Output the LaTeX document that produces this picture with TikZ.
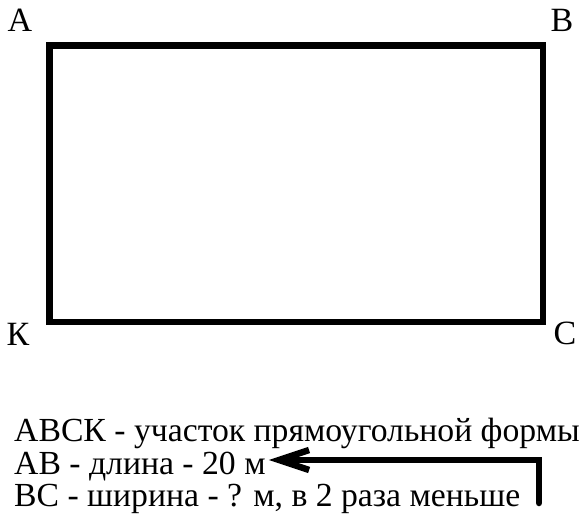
\documentclass[tikz,border=0pt]{standalone}
\usepackage{fontspec}
\setmainfont{Liberation Serif}
\usetikzlibrary{arrows.meta}
\begin{document}
\begin{tikzpicture}[x=1pt,y=-1pt]
		\tikzstyle{corner} = [inner sep=0pt,font=\fontsize{34}{34}\selectfont]
		\tikzstyle{textline} = [anchor=base west,inner sep=0pt,font=\fontsize{33.7}{33.7}\selectfont]
		\useasboundingbox (0,0) rectangle (586,528);
		\coordinate (a) at (49.5,45.5);
		\coordinate (c) at (543,322);
		\draw[line width=6.5pt] (a) rectangle (c);

		\node[corner] (la) at (20,20) {А};
		\node[corner] (lb) at (562,20) {В};
		\node[corner] (lc) at (565,333) {С};
		\node[corner] (lk) at (18,334) {К};

		\node[textline] (line1) at (14,441.7) {АВСК - участок прямоугольной формы};
		\node[textline] (line2) at (14,474) {АВ - длина - 20 м};
		\node[textline] (line3) at (14,506) {ВС - ширина - ? м, в 2 раза меньше};

		\coordinate (start) at (539,503);
		\draw[line width=6.5pt,line cap=round,-{Straight Barb[length=30pt,width=20pt]}] (start) |- ([xshift=3pt,yshift=14pt]line2.base east);
	\end{tikzpicture}
\end{document}
